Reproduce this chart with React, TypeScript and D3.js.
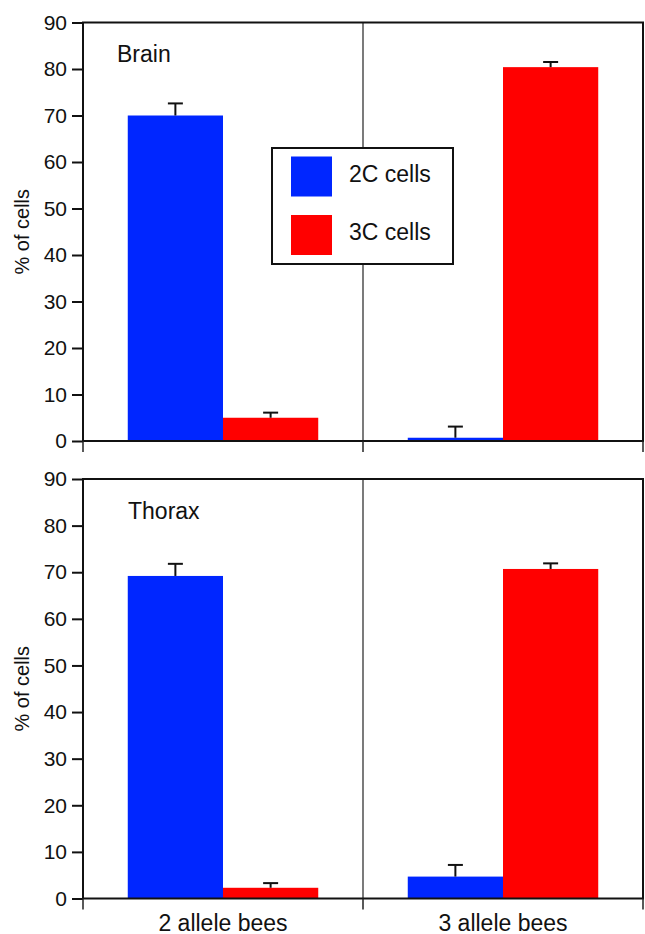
import { useEffect, useRef } from 'react'
import * as d3 from 'd3'

const categories = ['2 allele bees', '3 allele bees']
const seriesNames = ['2C cells', '3C cells']
const yTicks = [0, 10, 20, 30, 40, 50, 60, 70, 80, 90]

// Brain panel
const brain2C = [70.0, 0.7]
const brain2CErr = [2.6, 2.4]
const brain3C = [5.0, 80.4]
const brain3CErr = [1.1, 1.1]

// Thorax panel
const thorax2C = [69.2, 4.7]
const thorax2CErr = [2.6, 2.5]
const thorax3C = [2.3, 70.7]
const thorax3CErr = [1.0, 1.2]

const colors = ['#0026ff', '#ff0000']
const FONT = '"Liberation Sans", Arial, Helvetica, sans-serif'

export default function App() {
  const svgRef = useRef<SVGSVGElement>(null)
  const width = 645
  const height = 934

  useEffect(() => {
    if (!svgRef.current) return
    const svg = d3.select(svgRef.current)
    svg.selectAll('*').remove()

    const left = 83
    const right = 643

    const xOuter = d3.scaleBand().domain(categories).range([left, right]).paddingInner(0).paddingOuter(0)
    const xInner = d3
      .scaleBand()
      .domain(seriesNames)
      .range([0, xOuter.bandwidth()])
      .paddingInner(0)
      .paddingOuter(0.47)

    const panels = [
      { title: 'Brain', titleX: 117, top: 22.5, bottom: 441, values: [brain2C, brain3C], errs: [brain2CErr, brain3CErr], legend: true, xLabels: false },
      { title: 'Thorax', titleX: 128, top: 479, bottom: 898.5, values: [thorax2C, thorax3C], errs: [thorax2CErr, thorax3CErr], legend: false, xLabels: true },
    ]

    panels.forEach((p) => {
      const y = d3.scaleLinear().domain([0, 90]).range([p.bottom, p.top])
      const g = svg.append('g')

      // middle divider
      g.append('line')
        .attr('x1', xOuter(categories[1])!)
        .attr('x2', xOuter(categories[1])!)
        .attr('y1', p.top)
        .attr('y2', p.bottom)
        .attr('stroke', '#333')
        .attr('stroke-width', 1.3)

      // bars
      p.values.forEach((vals, si) => {
        g.selectAll(null)
          .data(categories)
          .enter()
          .append('rect')
          .attr('x', (c) => xOuter(c)! + xInner(seriesNames[si])!)
          .attr('width', xInner.bandwidth())
          .attr('y', (_, i) => y(vals[i]))
          .attr('height', (_, i) => y(0) - y(vals[i]))
          .attr('fill', colors[si])

        // error bars (upper only)
        categories.forEach((c, i) => {
          const cx = xOuter(c)! + xInner(seriesNames[si])! + xInner.bandwidth() / 2
          const yTop = y(vals[i] + p.errs[si][i])
          g.append('line')
            .attr('x1', cx).attr('x2', cx)
            .attr('y1', y(vals[i])).attr('y2', yTop)
            .attr('stroke', '#111').attr('stroke-width', 2)
          g.append('line')
            .attr('x1', cx - 7.5).attr('x2', cx + 7.5)
            .attr('y1', yTop).attr('y2', yTop)
            .attr('stroke', '#111').attr('stroke-width', 2)
        })
      })

      // frame
      g.append('rect')
        .attr('x', left)
        .attr('y', p.top)
        .attr('width', right - left)
        .attr('height', p.bottom - p.top)
        .attr('fill', 'none')
        .attr('stroke', '#111')
        .attr('stroke-width', 2)

      // y axis
      const yAxis = g
        .append('g')
        .attr('transform', `translate(${left},0)`)
        .call(d3.axisLeft(y).tickValues(yTicks).tickSize(11).tickSizeOuter(0).tickPadding(5))
      yAxis.select('.domain').remove()
      yAxis.selectAll('line').attr('stroke', '#111').attr('stroke-width', 2)
      yAxis.selectAll('text')
        .attr('fill', '#111')
        .attr('font-size', '21px')
        .attr('font-family', FONT)

      // x ticks at section boundaries
      const xb = [left, xOuter(categories[1])!, right]
      g.selectAll(null)
        .data(xb)
        .enter()
        .append('line')
        .attr('x1', (d) => d).attr('x2', (d) => d)
        .attr('y1', p.bottom).attr('y2', p.bottom + 11)
        .attr('stroke', '#222').attr('stroke-width', 1.5)

      if (p.xLabels) {
        g.selectAll(null)
          .data(categories)
          .enter()
          .append('text')
          .attr('x', (c) => xOuter(c)! + xOuter.bandwidth() / 2)
          .attr('y', p.bottom + 32)
          .attr('text-anchor', 'middle')
          .attr('font-size', '23px')
          .attr('font-family', FONT)
          .attr('fill', '#111')
          .text((c) => c)
      }

      // panel title
      g.append('text')
        .attr('x', p.titleX)
        .attr('y', p.top + 39.5)
        .attr('font-size', '23px')
        .attr('font-family', FONT)
        .attr('fill', '#111')
        .text(p.title)

      // y label
      g.append('text')
        .attr('transform', `translate(29,${(p.top + p.bottom) / 2}) rotate(-90)`)
        .attr('text-anchor', 'middle')
        .attr('font-size', '20px')
        .attr('font-family', FONT)
        .attr('fill', '#111')
        .text('% of cells')

      if (p.legend) {
        const lg = g.append('g').attr('transform', 'translate(272,148)')
        lg.append('rect')
          .attr('width', 181)
          .attr('height', 116)
          .attr('fill', '#fff')
          .attr('stroke', '#111')
          .attr('stroke-width', 2)
        seriesNames.forEach((s, i) => {
          lg.append('rect')
            .attr('x', 19)
            .attr('y', 8.5 + i * 58.5)
            .attr('width', 41)
            .attr('height', 40)
            .attr('fill', colors[i])
          lg.append('text')
            .attr('x', 77)
            .attr('y', 34 + i * 57.5)
            .attr('font-size', '23px')
            .attr('font-family', FONT)
            .attr('fill', '#111')
            .text(s)
        })
      }
    })
  }, [])

  return (
    <svg
      ref={svgRef}
      width={width}
      height={height}
      style={{ position: 'absolute', left: 0, top: 0, background: '#fff' }}
    />
  )
}
